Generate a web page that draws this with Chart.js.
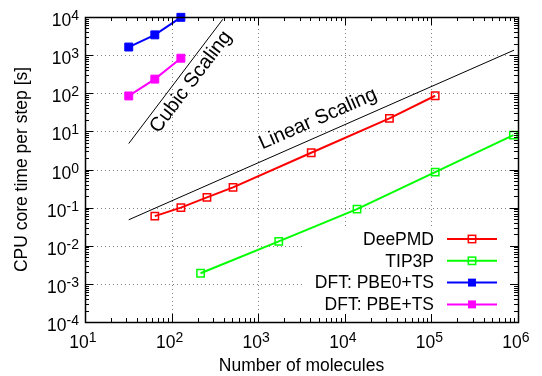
<!DOCTYPE html>
<html>
<head>
<meta charset="utf-8">
<script src="https://cdn.jsdelivr.net/npm/chart.js@4.4.1/dist/chart.umd.min.js"></script>
<style>
  html, body { margin: 0; padding: 0; background: #fff; }
</style>
</head>
<body>
<canvas id="chart" width="542" height="376"></canvas>
<script>
const FONT = '"Liberation Sans", Arial, sans-serif';

// values
const deepmdMolecules = [64, 128, 256, 512, 4096, 32768, 110592];
const deepmdTime = [0.06, 0.10, 0.185, 0.34, 2.75, 22, 86];

const tip3pMolecules = [216, 1728, 13824, 110592, 884736];
const tip3pTime = [0.0019, 0.013, 0.091, 0.85, 8];

const pbe0Molecules = [32, 64, 128];
const pbe0Time = [1630, 3400, 9800];

const pbeMolecules = [32, 64, 128];
const pbeTime = [85, 235, 830];

// guide lines
const cubicMolecules = [32, 390];
const cubicTime = [4.8, 8700];
const linearMolecules = [32, 900000];
const linearTime = [0.048, 1350];

const xExponents = [1, 2, 3, 4, 5, 6];
const yExponents = [-4, -3, -2, -1, 0, 1, 2, 3, 4];

function pts(xs, ys) {
    return xs.map((x, i) => ({ x: x, y: ys[i] }));
}

function series(label, xs, ys, color, filled) {
    return {
        label: label,
        data: pts(xs, ys),
        borderColor: color,
        backgroundColor: color,
        borderWidth: 2,
        pointStyle: 'rect',
        pointRadius: filled ? 5.6 : 5.2,
        pointBorderWidth: filled ? 1 : 1.5,
        pointBackgroundColor: filled ? color : 'rgba(0,0,0,0)',
        pointBorderColor: color,
        clip: false
    };
}

function guide(xs, ys) {
    return {
        label: '',
        data: pts(xs, ys),
        borderColor: '#000',
        borderWidth: 1,
        pointRadius: 0,
        guide: true
    };
}

// "10" with a raised exponent
function powerLabel(ctx, x, y, exp, align) {
    ctx.font = '17.5px ' + FONT;
    const wBase = ctx.measureText('10').width;
    ctx.font = '14px ' + FONT;
    const wExp = ctx.measureText(String(exp)).width;
    const total = wBase + wExp;
    let left = x;
    if (align === 'center') left = x - total / 2;
    if (align === 'right') left = x - total;
    ctx.textAlign = 'left';
    ctx.textBaseline = 'alphabetic';
    ctx.font = '17.5px ' + FONT;
    ctx.fillText('10', left, y);
    ctx.font = '14px ' + FONT;
    ctx.fillText(String(exp), left + wBase, y - 6);
}

const decorations = {
    id: 'decorations',
    beforeDatasetsDraw(chart) {
        const { ctx, chartArea: a, scales: { x, y } } = chart;
        ctx.save();
        ctx.strokeStyle = '#808080';
        ctx.lineWidth = 1;
        ctx.setLineDash([1, 3]);
        xExponents.forEach(e => {
            const px = Math.round(x.getPixelForValue(Math.pow(10, e))) + 0.5;
            if (px <= a.left + 1 || px >= a.right - 1) return;
            ctx.beginPath();
            ctx.moveTo(px, a.bottom);
            ctx.lineTo(px, a.top);
            ctx.stroke();
        });
        yExponents.forEach(e => {
            const py = Math.round(y.getPixelForValue(Math.pow(10, e))) + 0.5;
            if (py <= a.top + 1 || py >= a.bottom - 1) return;
            ctx.beginPath();
            ctx.moveTo(a.left, py);
            ctx.lineTo(a.right, py);
            ctx.stroke();
        });
        // legend background hides the grid
        ctx.fillStyle = '#fff';
        ctx.fillRect(a.right - 213, a.bottom - 94, 208, 88);
        ctx.restore();
    },
    afterDatasetsDraw(chart) {
        const { ctx, chartArea: a, scales: { x, y } } = chart;
        ctx.save();
        ctx.setLineDash([]);
        ctx.strokeStyle = '#000';
        ctx.lineWidth = 1;

        // tick marks on all four sides
        ctx.beginPath();
        for (let e = xExponents[0]; e <= xExponents[xExponents.length - 1]; e++) {
            for (let m = 1; m <= 9; m++) {
                const v = m * Math.pow(10, e);
                if (v > Math.pow(10, xExponents[xExponents.length - 1])) break;
                const px = Math.round(x.getPixelForValue(v)) + 0.5;
                const len = m === 1 ? 8 : 4;
                ctx.moveTo(px, a.bottom); ctx.lineTo(px, a.bottom - len);
                ctx.moveTo(px, a.top); ctx.lineTo(px, a.top + len);
            }
        }
        for (let e = yExponents[0]; e <= yExponents[yExponents.length - 1]; e++) {
            for (let m = 1; m <= 9; m++) {
                const v = m * Math.pow(10, e);
                if (v > Math.pow(10, yExponents[yExponents.length - 1])) break;
                const py = Math.round(y.getPixelForValue(v)) + 0.5;
                const len = m === 1 ? 8 : 4;
                ctx.moveTo(a.left, py); ctx.lineTo(a.left + len, py);
                ctx.moveTo(a.right, py); ctx.lineTo(a.right - len, py);
            }
        }
        ctx.stroke();

        ctx.lineWidth = 1.5;
        ctx.strokeRect(Math.round(a.left) + 0.5, Math.round(a.top) + 0.5,
            Math.round(a.right - a.left), Math.round(a.bottom - a.top));

        // tick labels
        ctx.fillStyle = '#000';
        xExponents.forEach(e => {
            powerLabel(ctx, x.getPixelForValue(Math.pow(10, e)) - 2, a.bottom + 26, e, 'center');
        });
        yExponents.forEach(e => {
            powerLabel(ctx, a.left - 6, y.getPixelForValue(Math.pow(10, e)) + 9, e, 'right');
        });

        // axis titles
        ctx.font = '17.5px ' + FONT;
        ctx.textAlign = 'center';
        ctx.textBaseline = 'middle';
        ctx.fillText('Number of molecules', (a.left + a.right) / 2, 366);
        ctx.save();
        ctx.translate(22, (a.top + a.bottom) / 2);
        ctx.rotate(-Math.PI / 2);
        ctx.fillText('CPU core time per step [s]', 0, 0);
        ctx.restore();

        // guide line captions, rotated to the line's slope
        ctx.font = '20px ' + FONT;
        function caption(text, xs, ys, cx, cy) {
            const dx = x.getPixelForValue(xs[1]) - x.getPixelForValue(xs[0]);
            const dy = y.getPixelForValue(ys[1]) - y.getPixelForValue(ys[0]);
            ctx.save();
            ctx.translate(cx, cy);
            ctx.rotate(Math.atan2(dy, dx));
            ctx.fillText(text, 0, 0);
            ctx.restore();
        }
        caption('Cubic Scaling', cubicMolecules, cubicTime, 191, 82);
        caption('Linear Scaling', linearMolecules, linearTime, 318, 119);

        // legend: text on the left, sample on the right
        const rows = chart.data.datasets.filter(d => !d.guide);
        const textRight = a.right - 84;
        const x1 = a.right - 71, x2 = a.right - 21;
        rows.forEach((d, i) => {
            const ry = a.bottom - 83 + i * 21.8;
            ctx.fillStyle = '#000';
            ctx.textAlign = 'right';
            ctx.textBaseline = 'middle';
            ctx.font = '17.5px ' + FONT;
            ctx.fillText(d.label, textRight, ry + 1);
            ctx.strokeStyle = d.borderColor;
            ctx.lineWidth = 2;
            ctx.beginPath();
            ctx.moveTo(x1, ry); ctx.lineTo(x2, ry);
            ctx.stroke();
            const mx = (x1 + x2) / 2;
            const s = d.pointRadius * Math.SQRT1_2;
            if (d.pointBackgroundColor === 'rgba(0,0,0,0)') {
                ctx.lineWidth = d.pointBorderWidth;
                ctx.strokeRect(mx - s, ry - s, 2 * s, 2 * s);
            } else {
                ctx.fillStyle = d.pointBackgroundColor;
                ctx.fillRect(mx - s, ry - s, 2 * s, 2 * s);
            }
        });
        ctx.restore();
    }
};

new Chart(document.getElementById('chart'), {
    type: 'scatter',
    data: {
        datasets: [
            series('DeePMD', deepmdMolecules, deepmdTime, '#ff0000', false),
            series('TIP3P', tip3pMolecules, tip3pTime, '#00ff00', false),
            series('DFT: PBE0+TS', pbe0Molecules, pbe0Time, '#0000ff', true),
            series('DFT: PBE+TS', pbeMolecules, pbeTime, '#ff00ff', true),
            guide(cubicMolecules, cubicTime),
            guide(linearMolecules, linearTime)
        ]
    },
    options: {
        responsive: false,
        animation: false,
        devicePixelRatio: 1,
        showLine: true,
        layout: { padding: { left: 85, right: 24, top: 17, bottom: 54 } },
        plugins: { legend: { display: false }, tooltip: { enabled: false } },
        scales: {
            x: {
                type: 'logarithmic',
                min: Math.pow(10, xExponents[0]),
                max: Math.pow(10, xExponents[xExponents.length - 1]),
                grid: { display: false, drawTicks: false },
                ticks: { display: false },
                border: { display: false }
            },
            y: {
                type: 'logarithmic',
                min: Math.pow(10, yExponents[0]),
                max: Math.pow(10, yExponents[yExponents.length - 1]),
                grid: { display: false, drawTicks: false },
                ticks: { display: false },
                border: { display: false }
            }
        }
    },
    plugins: [decorations]
});
</script>
</body>
</html>
